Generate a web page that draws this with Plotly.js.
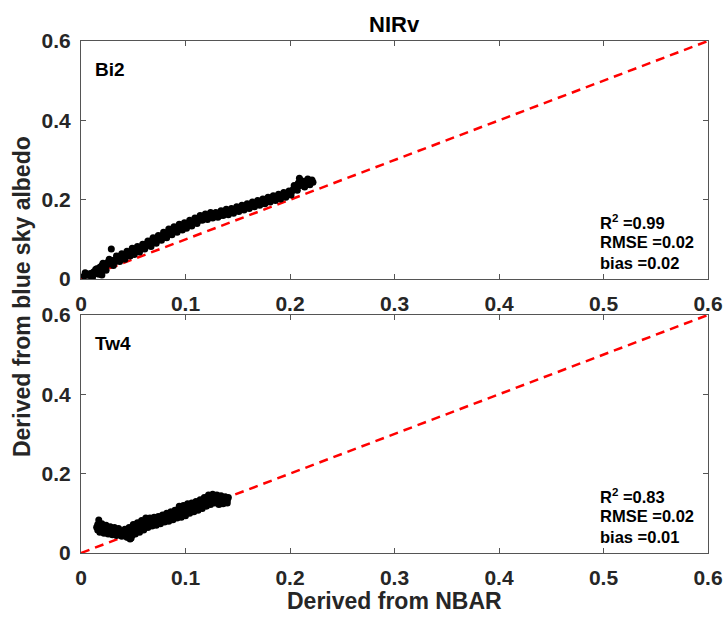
<!DOCTYPE html>
<html>
<head>
<meta charset="utf-8">
<script src="https://cdn.plot.ly/plotly-3.0.1.min.js"></script>
<style>html,body{margin:0;padding:0;background:#fff;}#chart{width:726px;height:619px;}</style>
</head>
<body>
<div id="chart"></div>
<script>
// Bi2 site: NIRv derived from NBAR (x) vs blue-sky albedo (y)
const bi2X = [0.003,0.005,0.006,0.008,0.009,0.010,0.012,0.013,0.015,0.016,0.018,0.019,0.020,0.022,0.023,0.025,0.026,0.028,0.029,0.030,
  0.032,0.033,0.035,0.036,0.038,0.040,0.041,0.043,0.045,0.046,0.048,0.050,0.052,0.053,0.055,0.057,0.058,0.060,0.062,0.063,
  0.065,0.066,0.068,0.070,0.071,0.073,0.075,0.076,0.078,0.080,0.081,0.083,0.085,0.086,0.088,0.090,0.091,0.093,0.095,0.096,
  0.098,0.100,0.102,0.103,0.105,0.107,0.108,0.110,0.112,0.113,0.115,0.117,0.118,0.120,0.122,0.123,0.125,0.127,0.128,0.130,
  0.132,0.133,0.135,0.137,0.138,0.140,0.142,0.143,0.145,0.147,0.148,0.150,0.152,0.153,0.155,0.157,0.158,0.160,0.162,0.163,
  0.165,0.167,0.168,0.170,0.172,0.173,0.175,0.177,0.178,0.180,0.182,0.183,0.185,0.187,0.188,0.190,0.192,0.193,0.195,0.197,
  0.198,0.200,0.202,0.203,0.205,0.206,0.208,0.209,0.210,0.212,0.213,0.215,0.216,0.218,0.220,0.222,
  0.004,0.011,0.014,0.017,0.020,0.021,0.024,0.027,0.031,0.034,0.037,0.039,0.042,0.044,0.047,0.049,0.051,0.054,0.056,0.059,
  0.061,0.064,0.067,0.069,0.072,0.074,0.077,0.079,0.082,0.084,0.087,0.089,0.092,0.094,0.097,0.099,0.101,0.104,0.106,0.109,
  0.111,0.114,0.116,0.119,0.121,0.124,0.126,0.129,0.131,0.134,0.136,0.139,0.141,0.144,0.146,0.149,0.151,0.154,0.156,0.159,
  0.161,0.164,0.166,0.169,0.171,0.174,0.176,0.179,0.181,0.184,0.186,0.189,0.191,0.194,0.196,0.199,0.201,0.204,0.207,0.211,
  0.214,0.217,0.219,0.221];
const bi2Y = [0.008,0.010,0.012,0.009,0.014,0.013,0.018,0.014,0.026,0.024,0.030,0.025,0.034,0.032,0.038,0.036,0.043,0.040,0.076,0.046,
  0.048,0.044,0.052,0.056,0.054,0.058,0.062,0.060,0.066,0.063,0.068,0.071,0.074,0.070,0.078,0.080,0.076,0.084,0.088,0.085,
  0.093,0.090,0.098,0.096,0.102,0.100,0.106,0.104,0.110,0.108,0.114,0.118,0.116,0.122,0.124,0.120,0.128,0.130,0.126,0.134,
  0.136,0.132,0.138,0.141,0.136,0.143,0.145,0.147,0.152,0.148,0.154,0.158,0.152,0.160,0.157,0.162,0.160,0.164,0.158,0.162,
  0.166,0.160,0.168,0.166,0.170,0.168,0.172,0.169,0.174,0.172,0.176,0.178,0.175,0.180,0.182,0.179,0.184,0.186,0.183,0.188,
  0.190,0.187,0.192,0.194,0.191,0.196,0.198,0.195,0.200,0.202,0.199,0.204,0.206,0.203,0.208,0.210,0.207,0.212,0.214,0.211,
  0.216,0.218,0.222,0.226,0.230,0.234,0.242,0.254,0.236,0.240,0.246,0.238,0.248,0.244,0.246,0.244,
  0.016,0.004,0.024,0.012,0.010,0.040,0.022,0.050,0.034,0.058,0.044,0.064,0.050,0.070,0.058,0.078,0.062,0.082,0.068,0.088,
  0.076,0.096,0.082,0.104,0.090,0.110,0.098,0.118,0.104,0.126,0.112,0.132,0.118,0.138,0.124,0.142,0.128,0.148,0.134,0.154,
  0.140,0.160,0.148,0.164,0.150,0.168,0.154,0.168,0.156,0.172,0.160,0.176,0.162,0.178,0.166,0.182,0.170,0.186,0.174,0.190,
  0.178,0.194,0.182,0.198,0.186,0.202,0.190,0.206,0.194,0.210,0.198,0.214,0.202,0.218,0.206,0.222,0.212,0.236,0.224,0.248,
  0.232,0.252,0.238,0.250];

// Tw4 site
const tw4X = [0.015,0.016,0.017,0.018,0.019,0.020,0.021,0.022,0.023,0.025,0.026,0.027,0.029,0.030,0.031,0.033,0.034,0.035,0.037,0.038,
  0.040,0.041,0.043,0.044,0.045,0.046,0.047,0.048,0.049,0.050,0.051,0.052,0.053,0.054,0.055,0.056,0.057,0.058,0.059,0.060,
  0.061,0.062,0.063,0.064,0.065,0.066,0.067,0.068,0.069,0.070,0.072,0.073,0.074,0.075,0.076,0.078,0.079,0.080,0.082,0.083,
  0.084,0.086,0.087,0.088,0.090,0.091,0.092,0.093,0.094,0.095,0.096,0.097,0.098,0.099,0.100,0.101,0.102,0.103,0.104,0.105,
  0.106,0.107,0.108,0.109,0.110,0.111,0.112,0.113,0.114,0.115,0.116,0.117,0.118,0.119,0.120,0.121,0.122,0.123,0.124,0.125,
  0.126,0.127,0.128,0.130,0.131,0.132,0.133,0.135,0.136,0.137,0.138,0.139,0.140,0.141,
  0.016,0.018,0.020,0.022,0.024,0.026,0.028,0.030,0.032,0.034,0.036,0.039,0.042,0.044,0.046,0.048,0.050,0.052,0.054,0.056,
  0.058,0.060,0.062,0.064,0.066,0.068,0.070,0.072,0.074,0.076,0.078,0.080,0.082,0.084,0.086,0.088,0.090,0.092,0.094,0.096,
  0.098,0.100,0.102,0.104,0.106,0.108,0.110,0.112,0.114,0.116,0.118,0.120,0.122,0.124,0.126,0.128,0.130,0.132,0.134,0.136,
  0.138,0.140];
const tw4Y = [0.065,0.058,0.083,0.062,0.055,0.060,0.068,0.057,0.063,0.059,0.054,0.061,0.057,0.052,0.060,0.055,0.050,0.058,0.052,0.047,
  0.055,0.050,0.045,0.053,0.040,0.058,0.035,0.062,0.045,0.066,0.056,0.070,0.060,0.065,0.072,0.063,0.075,0.068,0.078,0.071,
  0.066,0.080,0.074,0.083,0.076,0.070,0.079,0.085,0.077,0.082,0.078,0.086,0.080,0.088,0.083,0.087,0.082,0.090,0.086,0.093,
  0.089,0.094,0.090,0.097,0.100,0.092,0.108,0.098,0.112,0.103,0.096,0.110,0.104,0.114,0.100,0.108,0.116,0.105,0.112,0.118,
  0.108,0.114,0.120,0.110,0.122,0.116,0.126,0.118,0.124,0.130,0.120,0.128,0.133,0.124,0.136,0.128,0.132,0.140,0.130,0.136,
  0.142,0.131,0.138,0.134,0.142,0.128,0.136,0.140,0.132,0.138,0.128,0.136,0.133,0.140,
  0.072,0.052,0.074,0.050,0.070,0.048,0.066,0.046,0.064,0.044,0.062,0.042,0.060,0.040,0.064,0.038,0.072,0.048,0.076,0.052,
  0.082,0.058,0.088,0.064,0.088,0.068,0.090,0.070,0.092,0.074,0.096,0.078,0.100,0.080,0.104,0.084,0.108,0.088,0.118,0.090,
  0.120,0.094,0.124,0.100,0.126,0.104,0.130,0.108,0.134,0.112,0.140,0.118,0.146,0.122,0.148,0.126,0.146,0.122,0.144,0.124,
  0.142,0.126];

const oneToOne = [0, 0.6];
const tickVals = [0, 0.1, 0.2, 0.3, 0.4, 0.5, 0.6];
const tickText = ['0', '0.1', '0.2', '0.3', '0.4', '0.5', '0.6'];
const yTickVals = [0, 0.2, 0.4, 0.6];
const yTickText = ['0', '0.2', '0.4', '0.6'];
const statsBi2 = ['R<sup>2</sup> =0.99', 'RMSE =0.02', 'bias =0.02'];
const statsTw4 = ['R<sup>2</sup> =0.83', 'RMSE =0.02', 'bias =0.01'];
const statY = [0.144, 0.093, 0.040];

const FONT = 'Liberation Sans, Arial, sans-serif';
const mk = {color: '#000', size: 7};
const dash = {color: '#ff0000', width: 2.5, dash: '9px,6px'};

const traces = [
  {x: oneToOne, y: oneToOne, xaxis: 'x2', yaxis: 'y2', mode: 'lines', line: dash, hoverinfo: 'skip'},
  {x: bi2X, y: bi2Y, xaxis: 'x2', yaxis: 'y2', mode: 'markers', marker: mk},
  {x: oneToOne, y: oneToOne, xaxis: 'x', yaxis: 'y', mode: 'lines', line: dash, hoverinfo: 'skip'},
  {x: tw4X, y: tw4Y, xaxis: 'x', yaxis: 'y', mode: 'markers', marker: mk}
];

function ax(extra) {
  return Object.assign({
    range: [0, 0.6], showgrid: false, zeroline: false, showline: true, mirror: 'ticks',
    linecolor: '#555', linewidth: 1, ticks: 'inside', ticklen: 5, tickcolor: '#555',
    tickfont: {family: FONT, size: 21, color: '#262626', weight: 'bold'}
  }, extra);
}

const ann = [];
function addStats(lines, xr, yr) {
  lines.forEach((t, i) => ann.push({
    text: t, x: 0.495, y: statY[i], xref: xr, yref: yr, xanchor: 'left', yanchor: 'middle',
    showarrow: false, font: {family: FONT, size: 16.5, color: '#000', weight: 'bold'}
  }));
}
addStats(statsBi2, 'x2', 'y2');
addStats(statsTw4, 'x', 'y');
ann.push({text: 'Bi2', x: 0.0115, y: 0.527, xref: 'x2', yref: 'y2', xanchor: 'left', yanchor: 'middle', showarrow: false,
  font: {family: FONT, size: 19, color: '#000', weight: 'bold'}});
ann.push({text: 'Tw4', x: 0.0115, y: 0.527, xref: 'x', yref: 'y', xanchor: 'left', yanchor: 'middle', showarrow: false,
  font: {family: FONT, size: 19, color: '#000', weight: 'bold'}});
ann.push({text: 'NIRv', x: 0.5, y: 1.033, xref: 'paper', yref: 'paper', xanchor: 'center', yanchor: 'middle', showarrow: false,
  font: {family: FONT, size: 22, color: '#000', weight: 'bold'}});
ann.push({text: 'Derived from NBAR', x: 0.5, y: -0.094, xref: 'paper', yref: 'paper', xanchor: 'center', yanchor: 'middle', showarrow: false,
  font: {family: FONT, size: 23, color: '#262626', weight: 'bold'}});
ann.push({text: 'Derived from blue sky albedo', x: -0.094, y: 0.5, xref: 'paper', yref: 'paper', xanchor: 'center', yanchor: 'middle',
  textangle: -90, showarrow: false, font: {family: FONT, size: 23, color: '#262626', weight: 'bold'}});

const layout = {
  width: 726, height: 619, showlegend: false,
  paper_bgcolor: '#fff', plot_bgcolor: '#fff',
  margin: {l: 81, r: 18, t: 41, b: 66},
  xaxis: ax({anchor: 'y', tickvals: tickVals, ticktext: tickText, ticklabelstandoff: 6}),
  yaxis: ax({domain: [0, 0.465], anchor: 'x', tickvals: yTickVals, ticktext: yTickText, ticklabelstandoff: 5}),
  xaxis2: ax({anchor: 'y2', tickvals: tickVals, ticktext: tickText, ticklabelstandoff: 6}),
  yaxis2: ax({domain: [0.535, 1], anchor: 'x2', tickvals: yTickVals, ticktext: yTickText, ticklabelstandoff: 5}),
  annotations: ann
};

Plotly.newPlot('chart', traces, layout, {displayModeBar: false, staticPlot: true});
</script>
</body>
</html>
